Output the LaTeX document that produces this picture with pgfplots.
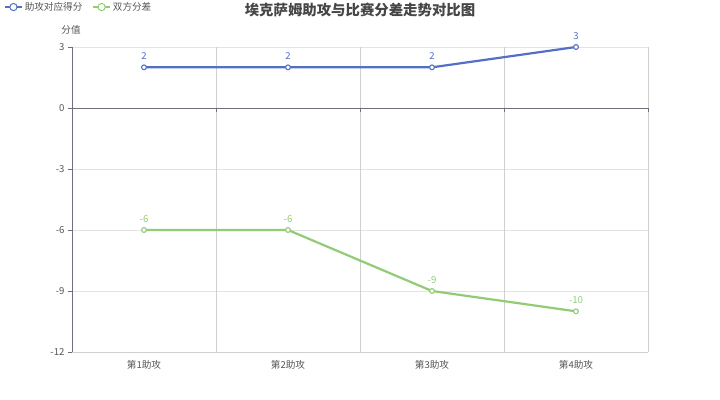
\documentclass[border=0pt]{standalone}
\usepackage{pgfplots}
\pgfplotsset{compat=1.18}
\usepackage{fontspec}
\setmainfont{Noto Sans CJK SC}
\definecolor{cblue}{HTML}{5470C6}
\definecolor{cgreen}{HTML}{91CC75}
\definecolor{caxis}{HTML}{6E7079}
\definecolor{cgrid}{HTML}{E3E3E3}
\definecolor{cvgrid}{HTML}{CFCFCF}
\definecolor{ctitle}{HTML}{464646}
\definecolor{clab}{HTML}{555555}
\newcommand{\lfont}{\fontsize{9.6bp}{11bp}\selectfont}
\begin{document}
\begin{tikzpicture}
\path[use as bounding box] (0,0) rectangle (720bp,400bp);
\node[font=\bfseries\fontsize{14.4bp}{16bp}\selectfont, text=ctitle] at (360bp,390bp) {埃克萨姆助攻与比赛分差走势对比图};
\begin{axis}[
  at={(72bp,48bp)}, anchor=south west,
  scale only axis, width=576bp, height=305bp,
  xmin=-0.5, xmax=3.5, ymin=-12, ymax=3,
  clip=false,
  axis line style={draw=none},
  xtick={0,1,2,3}, xticklabels={第1助攻,第2助攻,第3助攻,第4助攻},
  x tick style={draw=none},
  ytick={-12,-9,-6,-3,0,3}, yticklabels={-12,-9,-6,-3,0,3},
  ytick pos=left,
  y tick style={draw=caxis, line width=0.8bp},
  tick align=outside, major tick length=4bp,
  ymajorgrids, y grid style={draw=cgrid, line width=0.8bp},
  extra x ticks={0.5,1.5,2.5,3.5}, extra x tick labels={},
  extra x tick style={grid=major, major tick length=0pt, x grid style={draw=cvgrid, line width=0.8bp}},
  ticklabel style={font=\lfont, text=clab},
  xticklabel style={yshift=-1bp},
  legend style={at={(axis description cs:-0.1181,1.131)}, anchor=west, draw=none, fill=none,
    font=\lfont, text=clab, inner sep=0pt,
    /tikz/every even column/.append style={column sep=8bp}},
  legend columns=2,
  legend image code/.code={
    \draw[#1, mark=none, line width=1.6bp] (0bp,0bp) -- (17bp,0bp);
    \draw[#1, mark=none, fill=white, line width=1bp] (8.5bp,0bp) circle (3.6bp);
  },
]
\draw[cvgrid, line width=0.8bp] (axis cs:-0.5,-12) -- (axis cs:3.5,-12);
\draw[caxis, line width=0.8bp] (axis cs:-0.5,0) -- (axis cs:3.5,0);
\draw[caxis, line width=0.8bp] (axis cs:-0.5,-12) -- (axis cs:-0.5,3);
\draw[caxis, line width=0.8bp] (axis cs:0.5,0) -- ++(0bp,-4bp);
\draw[caxis, line width=0.8bp] (axis cs:1.5,0) -- ++(0bp,-4bp);
\draw[caxis, line width=0.8bp] (axis cs:2.5,0) -- ++(0bp,-4bp);
\draw[caxis, line width=0.8bp] (axis cs:3.5,0) -- ++(0bp,-4bp);
\node[font=\lfont, text=clab] at (axis description cs:-0.0017,1.0557) {分值};
\addplot[cblue, line width=2.2bp, mark=*, mark size=2.4bp,
  mark options={fill=white, line width=1.1bp},
  nodes near coords, nodes near coords align={anchor=south},
  every node near coord/.append style={font=\lfont, text=cblue, anchor=south, yshift=4bp},
  /pgf/number format/assume math mode=true]
  coordinates {(0,2) (1,2) (2,2) (3,3)};
\addlegendentry{助攻对应得分}
\addplot[cgreen, line width=2.2bp, mark=*, mark size=2.4bp,
  mark options={fill=white, line width=1.1bp},
  nodes near coords, nodes near coords align={anchor=south},
  every node near coord/.append style={font=\lfont, text=cgreen, anchor=south, yshift=4bp},
  /pgf/number format/assume math mode=true]
  coordinates {(0,-6) (1,-6) (2,-9) (3,-10)};
\addlegendentry{双方分差}
\end{axis}
\end{tikzpicture}
\end{document}
